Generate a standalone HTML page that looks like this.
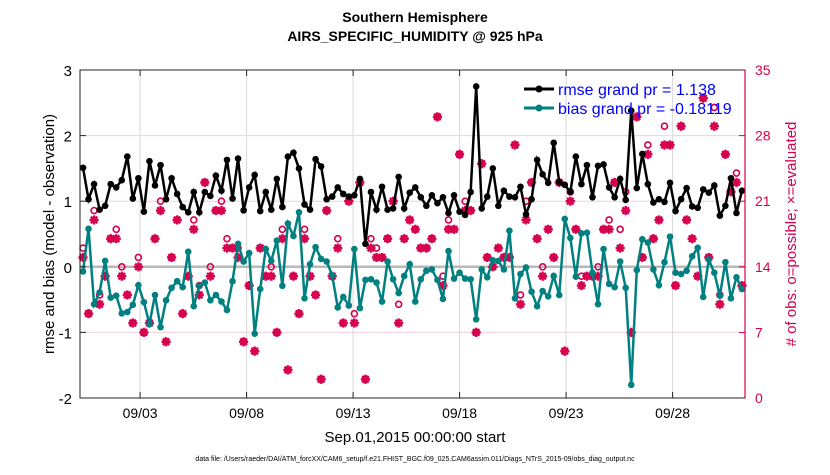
<!DOCTYPE html>
<html><head><meta charset="utf-8"><style>
body{margin:0;background:#fff;font-family:"Liberation Sans",Arial,sans-serif}
svg text{font-family:"Liberation Sans",Arial,sans-serif}
</style></head><body>
<svg id="c" width="830" height="470" xmlns="http://www.w3.org/2000/svg">
<rect width="830" height="470" fill="#fff"/>
<text x="415" y="22" text-anchor="middle" font-size="14" font-weight="bold">Southern Hemisphere</text>
<text x="415" y="41" text-anchor="middle" font-size="14" font-weight="bold">AIRS_SPECIFIC_HUMIDITY @ 925 hPa</text>
<g id="grid"></g>
<g id="marks"></g>
<g id="axes"></g>
<text transform="translate(54,234) rotate(-90)" text-anchor="middle" font-size="15">rmse and bias (model - observation)</text>
<text transform="translate(796,234) rotate(-90)" text-anchor="middle" font-size="15" fill="#d6004f"># of obs: o=possible; ×=evaluated</text>
<text x="415" y="442" text-anchor="middle" font-size="15">Sep.01,2015 00:00:00 start</text>
<text x="415" y="461" text-anchor="middle" font-size="7">data file: /Users/raeder/DAI/ATM_forcXX/CAM6_setup/f.e21.FHIST_BGC.f09_025.CAM6assim.011/Diags_NTrS_2015-09/obs_diag_output.nc</text>
<g>
<line x1="524" y1="89" x2="554" y2="89" stroke="#000" stroke-width="3"/>
<circle cx="539" cy="89" r="3.5" fill="#000"/>
<text x="558" y="95" font-size="16" fill="#0000ff">rmse grand pr = 1.138</text>
<line x1="524" y1="108" x2="554" y2="108" stroke="#008080" stroke-width="3"/>
<circle cx="539" cy="108" r="3.5" fill="#008080"/>
<text x="558" y="114" font-size="16" fill="#0000ff">bias grand pr = -0.18119</text>
</g>
</svg>
<script>
const rmse=[1.51,1.03,1.26,0.87,0.93,1.26,1.21,1.32,1.68,1.04,1.35,0.84,1.61,1.24,1.55,1.03,1.35,1.11,0.91,0.83,1.14,0.83,1.14,1.08,1.39,1.16,1.63,1.04,1.65,0.86,1.21,
1.40,0.85,1.14,0.87,1.34,0.91,1.68,1.74,1.50,0.95,0.87,1.64,1.53,1.03,1.07,1.21,1.11,1.07,1.09,1.34,0.35,1.14,0.87,1.22,0.87,0.89,1.37,0.89,1.13,1.21,
1.06,0.93,1.09,0.97,1.06,0.82,1.09,0.84,0.79,1.14,2.75,0.89,1.07,1.50,0.93,1.16,1.07,1.06,1.22,0.80,1.03,1.63,1.41,1.28,1.89,1.29,1.25,1.14,1.68,1.26,
1.55,1.06,1.54,1.56,1.21,1.06,1.34,1.02,2.38,1.20,1.72,1.26,0.98,1.03,0.99,1.28,0.85,1.03,1.20,0.92,0.90,1.18,1.13,1.24,0.78,0.93,1.35,0.82,1.16];
const bias=[-0.07,0.58,-0.57,-0.39,0.09,-0.47,-0.44,-0.71,-0.69,-0.58,-0.28,-0.54,-0.87,-0.43,-0.92,-0.51,-0.32,-0.22,-0.31,0.23,-0.60,-0.29,-0.24,-0.51,-0.43,-0.53,-0.66,-0.22,0.35,0.08,0.21,
-1.02,-0.34,0.27,0.09,0.40,-0.29,0.66,0.47,0.83,-0.48,0.04,0.30,0.12,0.08,-0.13,-0.62,-0.46,-0.59,0.27,-0.63,-0.20,-0.19,-0.24,-0.53,0.08,-0.19,-0.40,-0.14,0.04,-0.53,
-0.19,-0.06,-0.04,-0.20,-0.49,0.24,-0.18,-0.09,-0.18,-0.19,-0.80,-0.04,-0.16,0.10,0.09,-0.04,0.55,-0.48,-0.11,-0.01,-0.38,-0.60,-0.37,-0.45,-0.14,-0.43,0.73,0.44,-0.15,0.51,
0.52,-0.09,-0.57,0.27,-0.26,-0.31,0.08,-0.32,-1.80,-0.05,0.42,0.37,-0.04,-0.28,0.07,0.46,-0.09,-0.11,-0.06,0.16,0.29,-0.46,0.11,-0.09,-0.44,0.07,-0.48,-0.16,-0.34];
const obsPossible=[16,9,20,11,13,17,18,14,11,8,15,7,8,17,21,6,15,19,9,13,19,12,23,14,20,21,17,16,16,6,12,
5,16,13,14,7,18,3,13,9,18,13,11,2,20,13,17,8,21,9,23,2,17,16,15,17,21,10,17,19,18,
16,16,17,30,13,19,18,26,21,20,7,25,15,14,16,15,15,27,11,21,23,17,14,18,15,23,5,22,18,13,
13,13,14,18,19,23,18,22,7,30,15,27,17,19,29,27,12,29,19,17,13,32,15,31,11,26,22,24,12];
const obsEvaluated=[15,9,19,10,13,17,17,13,11,8,14,7,8,17,20,6,15,19,9,13,18,11,23,13,20,20,16,16,15,6,12,
5,16,13,13,7,17,3,13,9,17,13,11,2,20,13,16,8,21,8,23,2,16,15,15,17,21,8,17,19,18,
16,16,17,30,12,18,18,26,20,20,7,25,15,14,16,15,15,27,10,19,23,17,13,18,15,23,5,21,18,12,
13,13,13,18,18,23,16,20,7,30,15,26,17,19,27,27,12,29,19,17,13,32,15,29,10,26,22,23,12];
const dayTicks=['09/03','09/08','09/13','09/18','09/23','09/28'];
const dayTickVals=[3,8,13,18,23,28];
const leftTicks=[-2,-1,0,1,2,3];
const rightTicks=[0,7,14,21,28,35];

const L=80,R=745,T=70,B=398,NS='http://www.w3.org/2000/svg';
const N=rmse.length;
function xi(i){return 83+i*(742-83)/(N-1);}
function xd(d){return 97.5+(d-1)*21.3;}
function yl(v){return B-(v+2)/5*(B-T);}
function yr(v){return B-v/35*(B-T);}
function mk(tag,attrs,parent){const e=document.createElementNS(NS,tag);for(const k in attrs)e.setAttribute(k,attrs[k]);parent.appendChild(e);return e;}
const grid=document.getElementById('grid'),marks=document.getElementById('marks'),axes=document.getElementById('axes');
mk('rect',{x:L,y:T,width:R-L,height:B-T,fill:'#fff'},grid);
dayTickVals.forEach((d,k)=>{
  const g=mk('line',{x1:xd(d),x2:xd(d),y1:T,y2:B,stroke:'#d8d8d8','stroke-width':1},grid);
  
  
  const t=mk('text',{x:xd(d),y:418,'text-anchor':'middle','font-size':14},axes);t.textContent=dayTicks[k];
  
  
  mk('line',{x1:xd(d),x2:xd(d),y1:B,y2:B-6,stroke:'#262626'},axes);
  mk('line',{x1:xd(d),x2:xd(d),y1:T,y2:T+6,stroke:'#262626'},axes);
});
rightTicks.forEach(v=>{
  if(v>0&&v<35){const g=mk('line',{x1:L,x2:R,y1:yr(v),y2:yr(v),stroke:'#f0d0dc','stroke-width':1},grid);
  
  }
  const t=mk('text',{x:R+10,y:yr(v)+5,'font-size':14,fill:'#d6004f'},axes);t.textContent=v;
  
  
  mk('line',{x1:R,x2:R-6,y1:yr(v),y2:yr(v),stroke:'#d6004f'},axes);
});
leftTicks.forEach(v=>{
  const t=mk('text',{x:L-8,y:yl(v)+6,'text-anchor':'end','font-size':15},axes);t.textContent=v;
  
  
  mk('line',{x1:L,x2:L+6,y1:yl(v),y2:yl(v),stroke:'#262626'},axes);
});
const z=mk('line',{x1:L,x2:R,y1:yl(0),y2:yl(0),stroke:'#b8b8b8','stroke-width':2.5},grid);


function star(cx,cy,p){
  const s=4.6;let d='';
  for(let a=0;a<4;a++){const an=a*Math.PI/4;d+=`M${cx-s*Math.cos(an)},${cy-s*Math.sin(an)}L${cx+s*Math.cos(an)},${cy+s*Math.sin(an)}`;}
  return mk('path',{d:d,stroke:'#d6004f','stroke-width':2.4,fill:'none'},p);
}
for(let i=0;i<N;i++){
  const st=star(xi(i),yr(obsEvaluated[i]),marks);
  
  
  const c=mk('circle',{cx:xi(i),cy:yr(obsPossible[i]),r:3,fill:obsPossible[i]===obsEvaluated[i]?'#d6004f':'none',stroke:'#d6004f','stroke-width':1.6},marks);
  
  
}
function series(arr,col,name){
  const p=mk('polyline',{points:arr.map((v,i)=>xi(i)+','+yl(v)).join(' '),fill:'none',stroke:col,'stroke-width':2.5},marks);
  
  
  arr.forEach((v,i)=>{const c=mk('circle',{cx:xi(i),cy:yl(v),r:3.3,fill:col},marks);
    
    });
}
series(bias,'#008080','bias');
series(rmse,'#000000','rmse');
mk('rect',{x:L,y:T,width:R-L,height:B-T,fill:'none',stroke:'#262626','stroke-width':1},axes);
mk('line',{x1:R,x2:R,y1:T,y2:B,stroke:'#d6004f','stroke-width':1.2},axes);
</script>
</body></html>
